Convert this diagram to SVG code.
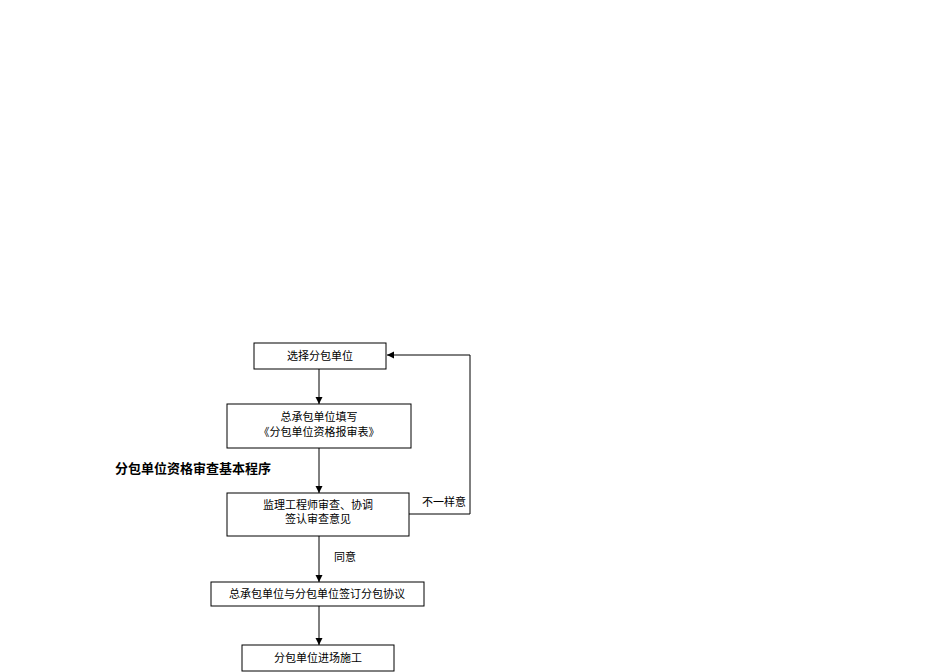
<svg xmlns="http://www.w3.org/2000/svg" width="950" height="672" viewBox="0 0 950 672">
<style>
.b{fill:#fff;stroke:#000;stroke-width:1}
.t{font-family:"Liberation Serif","Noto Sans CJK SC",serif;font-size:11px;fill:#000;text-anchor:middle}
.c{fill:none;stroke:#000;stroke-width:1;marker-end:url(#a)}
</style>
<defs><marker id="a" markerWidth="8" markerHeight="8" refX="7" refY="4" orient="auto" markerUnits="userSpaceOnUse"><path d="M0,0.5 L7,4 L0,7.5z" fill="#000"/></marker></defs>
<rect width="950" height="672" fill="#fff"/>
<text x="115" y="473" font-family="Liberation Sans,Noto Sans CJK SC,sans-serif" font-size="13" font-weight="bold">分包单位资格审查基本程序</text>
<g id="connectors">
<path class="c" d="M319,369 V404"/>
<path class="c" d="M319,448 V493"/>
<path class="c" d="M319,536 V582"/>
<path class="c" d="M319,606 V645"/>
<path class="c" d="M409,514 H470 V355 H387"/>
<text class="t" x="345" y="561">同意</text>
<text class="t" x="444" y="506">不一样意</text>
</g>
<g id="n1"><rect class="b" x="254" y="343" width="132" height="26"/><text class="t" x="320" y="360">选择分包单位</text></g>
<g id="n2"><rect class="b" x="227" y="404" width="184" height="44"/><text class="t" x="319" y="421">总承包单位填写</text><text class="t" x="319" y="436">《分包单位资格报审表》</text></g>
<g id="n3"><rect class="b" x="227" y="493" width="182" height="43"/><text class="t" x="318" y="509">监理工程师审查、协调</text><text class="t" x="318" y="523">签认审查意见</text></g>
<g id="n4"><rect class="b" x="211" y="582" width="213" height="24"/><text class="t" x="317" y="598">总承包单位与分包单位签订分包协议</text></g>
<g id="n5"><rect class="b" x="242" y="645" width="152" height="26"/><text class="t" x="318" y="662">分包单位进场施工</text></g>
</svg>
